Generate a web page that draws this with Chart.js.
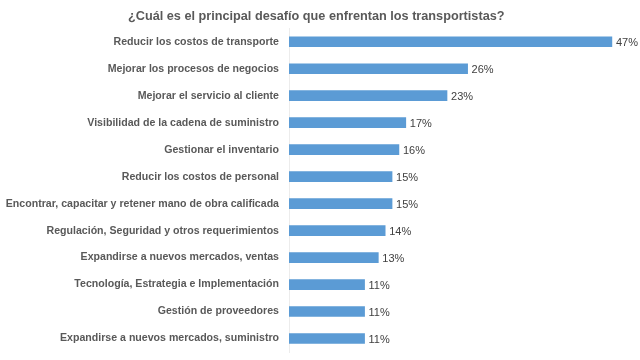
<!DOCTYPE html>
<html>
<head>
<meta charset="utf-8">
<script src="https://cdn.jsdelivr.net/npm/chart.js@4/dist/chart.umd.min.js"></script>
<style>
  html, body { margin: 0; padding: 0; background: #ffffff; }
  #wrap { width: 640px; height: 360px; }
</style>
</head>
<body>
<div id="wrap"><canvas id="c" width="640" height="360"></canvas></div>
<script>
const titleText = "¿Cuál es el principal desafío que enfrentan los transportistas?";
const categories = [
  "Reducir los costos de transporte",
  "Mejorar los procesos de negocios",
  "Mejorar el servicio al cliente",
  "Visibilidad de la cadena de suministro",
  "Gestionar el inventario",
  "Reducir los costos de personal",
  "Encontrar, capacitar y retener mano de obra calificada",
  "Regulación, Seguridad y otros requerimientos",
  "Expandirse a nuevos mercados, ventas",
  "Tecnología, Estrategia e Implementación",
  "Gestión de proveedores",
  "Expandirse a nuevos mercados, suministro"
];
const values = [47, 26, 23, 17, 16, 15, 15, 14, 13, 11, 11, 11];

const FONT = "'Liberation Sans', Arial, Helvetica, sans-serif";

const valueLabels = {
  id: 'valueLabels',
  afterDatasetsDraw(chart) {
    const ctx = chart.ctx;
    const meta = chart.getDatasetMeta(0);
    ctx.save();
    ctx.font = "11px " + FONT;
    ctx.fillStyle = "#404040";
    ctx.textAlign = "left";
    ctx.textBaseline = "middle";
    meta.data.forEach((bar, i) => {
      ctx.fillText(values[i] + "%", bar.x + 4, bar.y + 1);
    });
    ctx.restore();
  }
};

new Chart(document.getElementById('c'), {
  type: 'bar',
  data: {
    labels: categories,
    datasets: [{
      data: values,
      backgroundColor: '#5B9BD5',
      borderWidth: 0,
      barThickness: 10
    }]
  },
  options: {
    indexAxis: 'y',
    responsive: false,
    animation: false,
    layout: { padding: { left: 0, right: 7.5, top: 0, bottom: 8 } },
    plugins: {
      legend: { display: false },
      tooltip: { enabled: false },
      title: {
        display: true,
        text: titleText,
        color: '#595959',
        font: { family: FONT, size: 12.7, weight: 'bold', lineHeight: 1.2 },
        padding: { top: 8.5, bottom: 4.5 }
      }
    },
    scales: {
      x: {
        display: false,
        min: 0,
        max: 50
      },
      y: {
        afterFit(scale) { scale.width = 289; },
        grid: { display: false, drawTicks: true, tickLength: 10 },
        border: { display: true, color: '#ececec', width: 1 },
        ticks: {
          color: '#595959',
          padding: 0,
          font: { family: FONT, size: 10.6, weight: 'bold' }
        }
      }
    }
  },
  plugins: [valueLabels]
});
</script>
</body>
</html>
